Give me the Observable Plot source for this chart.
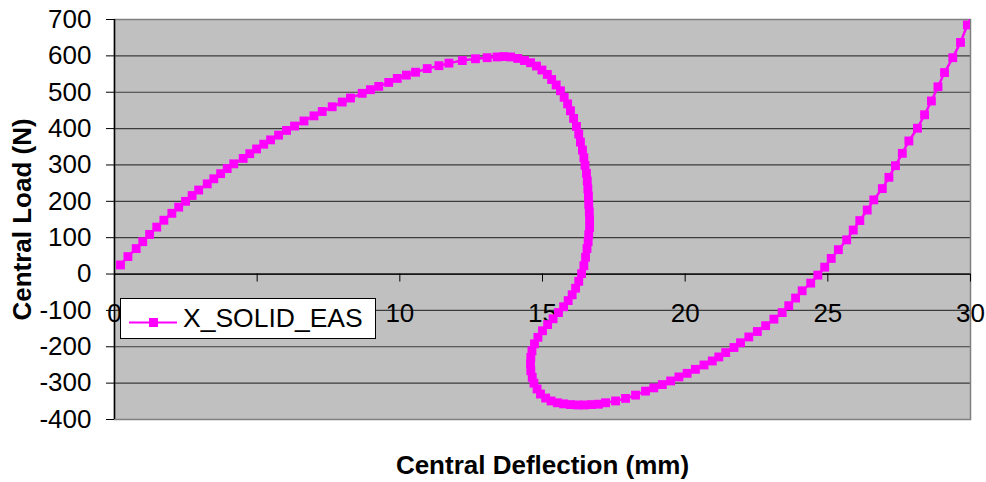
<!DOCTYPE html>
<html>
<head>
<meta charset="utf-8">
<script src="https://cdn.jsdelivr.net/npm/d3@7"></script>
<script src="https://cdn.jsdelivr.net/npm/@observablehq/plot@0.6"></script>
<style>
  html, body { margin: 0; padding: 0; background: #fff; }
  #wrap { position: relative; width: 986px; height: 482px; font-family: "Liberation Sans", Arial, sans-serif; }
  #legend { position: absolute; left: 120px; top: 298px; width: 254px; height: 39px; background: #fff; border: 1px solid #000; display: flex; align-items: center; }
  #legend span { font-size: 26.5px; color: #000; margin-left: 4px; }
</style>
</head>
<body>
<div id="wrap"></div>
<script>
const seriesName = "X_SOLID_EAS";
const deflection = [
  0.21, 0.47, 0.76, 0.99, 1.23, 1.48, 1.73, 2.01, 2.25, 2.49, 2.72, 2.95, 3.25, 3.48, 3.72, 3.95, 4.18, 4.51, 4.74, 4.98,
  5.23, 5.47, 5.75, 6.03, 6.31, 6.64, 6.99, 7.28, 7.63, 7.98, 8.27, 8.68, 8.97, 9.26, 9.61, 9.91, 10.23, 10.55, 10.96, 11.37,
  11.72, 12.19, 12.65, 13.06, 13.41,
  13.64, 13.88, 14.13, 14.37, 14.58, 14.79, 14.98, 15.17, 15.32, 15.48, 15.63, 15.76, 15.88, 15.98, 16.09, 16.19, 16.27, 16.33,
  16.40, 16.45, 16.49, 16.54, 16.57, 16.59, 16.61, 16.62, 16.64, 16.65, 16.65, 16.62, 16.60, 16.56, 16.51, 16.45, 16.37, 16.27,
  16.16, 16.04, 15.90, 15.74, 15.56, 15.37, 15.18, 15.00, 14.84, 14.72, 14.63, 14.59, 14.58, 14.59, 14.64, 14.70, 14.81, 14.93,
  15.11, 15.30, 15.52, 15.74, 15.98, 16.23, 16.47, 16.72, 16.96,
  17.21, 17.56, 17.91, 18.26, 18.61, 18.90, 19.20, 19.49, 19.78, 20.07, 20.36, 20.66, 20.95, 21.18, 21.42, 21.71, 21.94, 22.23,
  22.53, 22.82, 23.11, 23.40, 23.63, 23.87, 24.10, 24.40, 24.65, 24.89, 25.12, 25.37, 25.66, 25.89, 26.12, 26.38, 26.61, 26.91,
  27.14, 27.37, 27.61, 27.84, 28.14, 28.39, 28.63, 28.86, 29.09, 29.38, 29.65, 29.89, 30.15
];
const load = [
  25, 48, 70, 89, 109, 129, 148, 167, 184, 200, 216, 231, 248, 262, 276, 290, 303, 318, 331, 344,
  357, 369, 382, 395, 407, 421, 435, 447, 460, 473, 484, 497, 507, 516, 527, 538, 547, 555, 565, 573,
  580, 587, 592, 595, 597,
  598, 597, 593, 587, 581, 572, 561, 549, 535, 520, 504, 486, 468, 449, 428, 406, 385, 363,
  341, 320, 299, 277, 256, 234, 214, 192, 171, 149, 128, 108, 89, 70, 46, 23, 1, -20,
  -39, -57, -73, -90, -106, -123, -139, -156, -174, -192, -211, -229, -247, -266, -284, -300, -316, -330,
  -341, -349, -354, -357, -359, -360, -360, -359, -358,
  -354, -349, -342, -333, -322, -313, -304, -294, -283, -273, -262, -250, -239, -228, -216, -202, -189, -173,
  -158, -142, -124, -106, -87, -66, -46, -25, -3, 19, 43, 67, 94, 121, 147, 176, 204, 235,
  266, 298, 332, 366, 401, 438, 476, 515, 554, 595, 637, 685, 725
];
const xTicks = [0, 5, 10, 15, 20, 25, 30];
const yTicks = [-400, -300, -200, -100, 0, 100, 200, 300, 400, 500, 600, 700];
const xTitle = "Central Deflection (mm)";
const yTitle = "Central Load (N)";

const data = deflection.map((d, i) => ({x: d, y: load[i]}));
const magenta = "#FF00FF";

const chart = Plot.plot({
  width: 986,
  height: 482,
  marginLeft: 114,
  marginRight: 16,
  marginTop: 19,
  marginBottom: 63,
  style: {fontFamily: "Liberation Sans, Arial, sans-serif", fontSize: "26px", background: "#fff", color: "#000", overflow: "visible"},
  x: {domain: [0, 30], axis: null},
  y: {domain: [-400, 700], axis: null},
  marks: [
    Plot.frame({fill: "#C0C0C0", stroke: null}),
    Plot.ruleY(yTicks, {stroke: "#3c3c3c", strokeWidth: 1.2}),
    Plot.frame({stroke: "#808080", strokeWidth: 1.5}),
    Plot.ruleY([0], {stroke: "#000", strokeWidth: 1.3}),
    Plot.ruleX([0], {stroke: "#000", strokeWidth: 1.5}),
    Plot.axisY({ticks: yTicks, tickSize: 8, tickPadding: 15, tickFormat: d => `${d}`, fontSize: 26, stroke: "#000", label: null}),
    Plot.ruleX(xTicks, {x: d => d, y1: 0, y2: 0, insetBottom: -8, stroke: "#000"}),
    Plot.text(xTicks, {x: d => d, y: 0, dy: 40, text: d => `${d}`, fontSize: 26, fill: "#000"}),
    Plot.line(data, {x: "x", y: "y", stroke: magenta, strokeWidth: 2.5, clip: true}),
    Plot.dot(data, {x: "x", y: "y", symbol: "square", r: 5, fill: magenta, stroke: null, clip: true}),
    Plot.text([yTitle], {frameAnchor: "left", textAnchor: "middle", dx: -92, rotate: -90, text: d => d, fontSize: 26, fontWeight: "bold", fill: "#000"}),
    Plot.text([xTitle], {frameAnchor: "bottom", lineAnchor: "middle", dy: 46, text: d => d, fontSize: 26, fontWeight: "bold", fill: "#000"})
  ]
});

const wrap = document.getElementById("wrap");
wrap.appendChild(chart);

const legend = document.createElement("div");
legend.id = "legend";
legend.innerHTML = `<svg width="58" height="39" style="flex:none"><line x1="8" x2="56" y1="23.5" y2="23.5" stroke="${magenta}" stroke-width="2"/><rect x="28" y="19" width="9" height="9" fill="${magenta}"/></svg><span>${seriesName}</span>`;
wrap.appendChild(legend);
</script>
</body>
</html>
